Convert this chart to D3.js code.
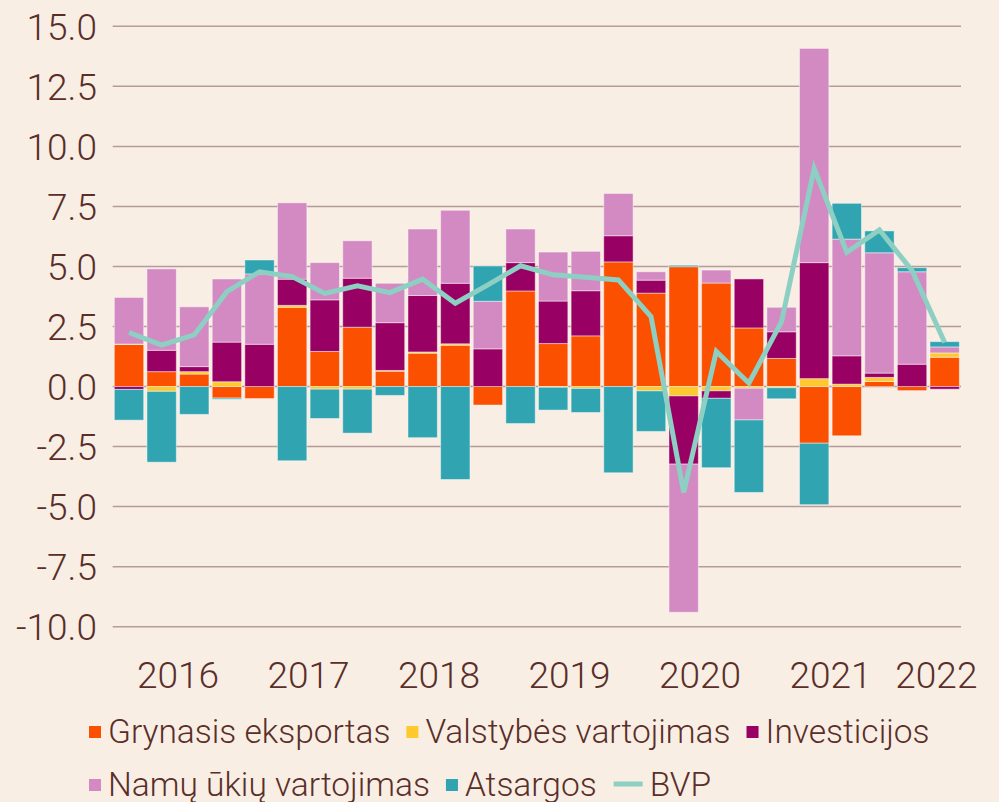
<!DOCTYPE html>
<html>
<head>
<meta charset="utf-8">
<script src="https://cdn.jsdelivr.net/npm/d3@7"></script>
<style>
  html, body { margin: 0; padding: 0; background: #f9eee4; }
  svg text { font-family: Roboto, "Noto Sans", sans-serif; font-weight: 300; fill: #5a2e29; }
</style>
</head>
<body>
<svg id="chart" width="999" height="802"></svg>
<script>
// quarters 2016 Q1 .. 2022 Q2
const quarters = ['2016Q1','2016Q2','2016Q3','2016Q4','2017Q1','2017Q2','2017Q3','2017Q4',
  '2018Q1','2018Q2','2018Q3','2018Q4','2019Q1','2019Q2','2019Q3','2019Q4',
  '2020Q1','2020Q2','2020Q3','2020Q4','2021Q1','2021Q2','2021Q3','2021Q4','2022Q1','2022Q2']

const grynasis  = [1.75, 0.62, 0.52, -0.48, -0.50, 3.30, 1.46, 2.47, 0.64, 1.39, 1.72, -0.77, 3.98, 1.79, 2.11, 5.19, 3.89, 4.99, 4.31, 2.44, 1.17, -2.36, -2.05, 0.21, -0.17, 1.22]
const valstybes = [0.02, -0.20, 0.10, 0.20, 0.00, 0.08, -0.11, -0.11, 0.03, 0.05, 0.06, 0.00, 0.00, -0.03, -0.08, 0.00, -0.18, -0.39, -0.18, -0.07, -0.05, 0.33, 0.10, 0.17, 0.00, 0.18]
const investicijos = [-0.12, 0.89, 0.21, 1.65, 1.76, 1.09, 2.15, 2.04, 1.99, 2.35, 2.52, 1.57, 1.18, 1.77, 1.88, 1.09, 0.54, -2.84, -0.31, 2.04, 1.11, 4.83, 1.18, 0.18, 0.93, -0.11]
const namuUkiu  = [1.94, 3.39, 2.49, 2.63, 2.93, 3.18, 1.55, 1.56, 1.64, 2.77, 3.04, 1.98, 1.40, 2.04, 1.64, 1.76, 0.35, -6.17, 0.54, -1.32, 1.02, 8.92, 4.86, 5.01, 3.85, 0.25]
const atsargos  = [-1.28, -2.95, -1.16, -0.05, 0.58, -3.09, -1.22, -1.83, -0.37, -2.13, -3.87, 1.47, -1.54, -0.95, -1.00, -3.59, -1.69, 0.06, -2.89, -3.02, -0.46, -2.56, 1.49, 0.91, 0.17, 0.22]
const bvp       = [2.25, 1.73, 2.15, 3.95, 4.78, 4.58, 3.88, 4.19, 3.91, 4.47, 3.47, 4.23, 5.03, 4.65, 4.55, 4.44, 2.91, -4.41, 1.46, 0.14, 2.70, 9.08, 5.59, 6.52, 4.83, 1.83]

const years = ['2016','2017','2018','2019','2020','2021','2022']
const yTicks = [15, 12.5, 10, 7.5, 5, 2.5, 0, -2.5, -5, -7.5, -10]

const series = [
  { key: 'gryn', name: 'Grynasis eksportas', values: grynasis, color: '#fb5000' },
  { key: 'vals', name: 'Valstybės vartojimas', values: valstybes, color: '#fdc92f' },
  { key: 'inv', name: 'Investicijos', values: investicijos, color: '#990063' },
  { key: 'namu', name: 'Namų ūkių vartojimas', values: namuUkiu, color: '#d38ac3' },
  { key: 'ats', name: 'Atsargos', values: atsargos, color: '#31a4b1' }
]
const lineColor = '#8dcfc3'

const rows = quarters.map((q, i) => {
  const r = { q: q, bvp: bvp[i] }
  series.forEach(s => { r[s.key] = s.values[i] })
  return r
})

const svg = d3.select('#chart')

svg.append('rect').attr('width', 999).attr('height', 802).attr('fill', '#f9eee4')

const x = d3.scaleBand()
  .domain(quarters)
  .range([112.7, 961])
  .paddingInner(0.1)
  .paddingOuter(0.05)

const y = d3.scaleLinear()
  .domain([-10, 15])
  .range([626.7, 26.3])

// grid
svg.append('g')
  .selectAll('line')
  .data(yTicks)
  .enter()
  .append('line')
  .attr('x1', 112.7)
  .attr('x2', 961)
  .attr('y1', d => y(d))
  .attr('y2', d => y(d))
  .attr('stroke', '#b59c98')
  .attr('stroke-width', 1.5)

// y labels (plain hyphen for negatives, as in the original)
svg.append('g')
  .selectAll('text')
  .data(yTicks)
  .enter()
  .append('text')
  .attr('x', 97)
  .attr('y', d => y(d))
  .attr('dy', '0.36em')
  .attr('text-anchor', 'end')
  .style('font-size', '37px')
  .text(d => d.toFixed(1))

// stacked bars
const stack = d3.stack()
  .keys(series.map(s => s.key))
  .offset(d3.stackOffsetDiverging)

const stacked = stack(rows)

svg.append('g')
  .selectAll('g')
  .data(stacked)
  .enter()
  .append('g')
  .attr('fill', (d, i) => series[i].color)
  .selectAll('rect')
  .data(d => d)
  .enter()
  .append('rect')
  .attr('x', d => x(d.data.q))
  .attr('width', x.bandwidth())
  .attr('y', d => y(Math.max(d[0], d[1])))
  .attr('height', d => Math.abs(y(d[0]) - y(d[1])))
  .attr('stroke', 'rgba(255,255,255,0.45)')
  .attr('stroke-width', 1)

// BVP line
const line = d3.line()
  .x(d => x(d.q) + x.bandwidth() / 2)
  .y(d => y(d.bvp))

svg.append('path')
  .datum(rows)
  .attr('d', line)
  .attr('fill', 'none')
  .attr('stroke', lineColor)
  .attr('stroke-width', 5)

// year labels, centred under their quarters
const yearLabels = years.map(yr => {
  const qs = quarters.filter(q => q.startsWith(yr))
  const cx = d3.mean(qs, q => x(q) + x.bandwidth() / 2)
  return { yr: yr, cx: qs.length < 4 ? cx + 8 : cx }
})

svg.append('g')
  .selectAll('text')
  .data(yearLabels)
  .enter()
  .append('text')
  .attr('x', d => d.cx)
  .attr('y', 688)
  .attr('text-anchor', 'middle')
  .style('font-size', '37px')
  .text(d => d.yr)

// legend
const legendRows = [
  { y: 743, items: [series[0], series[1], series[2]] },
  { y: 796, items: [series[3], series[4], { name: 'BVP', line: true, color: lineColor }] }
]

legendRows.forEach(row => {
  let cx = 89
  row.items.forEach(item => {
    const g = svg.append('g')
    if (item.line) {
      g.append('line')
        .attr('x1', cx + 1).attr('x2', cx + 30)
        .attr('y1', row.y - 12).attr('y2', row.y - 12)
        .attr('stroke', item.color)
        .attr('stroke-width', 5)
      cx += 37
    } else {
      g.append('rect')
        .attr('x', cx).attr('y', row.y - 17)
        .attr('width', 12).attr('height', 12)
        .attr('fill', item.color)
      cx += 19
    }
    const t = g.append('text')
      .attr('x', cx)
      .attr('y', row.y)
      .style('font-size', '33.5px')
      .text(item.name)
    cx += t.node().getComputedTextLength() + 16
  })
})
</script>
</body>
</html>
